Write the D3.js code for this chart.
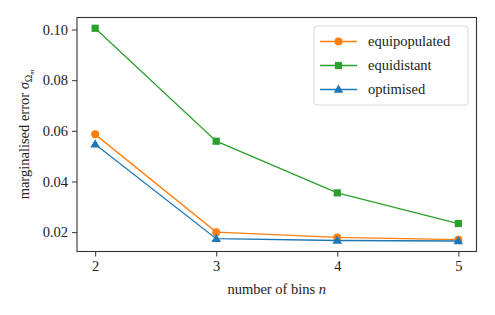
<!DOCTYPE html>
<html><head><meta charset="utf-8">
<script src="https://cdn.jsdelivr.net/npm/d3@7"></script>
<style>
body{margin:0;background:#fff;}
svg text, svg tspan{font-family:"Liberation Serif", "Tinos", "Times New Roman", serif !important;}
</style>
</head>
<body><svg id="c" width="495" height="315"></svg>
<script>
const bins = [2, 3, 4, 5];
const equipopulated = [0.0586, 0.0200, 0.0179, 0.0170];
const equidistant = [0.1005, 0.0559, 0.0355, 0.0234];
const optimised = [0.0547, 0.0174, 0.0167, 0.0165];
const yTicks = [0.02, 0.04, 0.06, 0.08, 0.10];
const xTicks = [2, 3, 4, 5];
const seriesNames = ["equipopulated", "equidistant", "optimised"];
const seriesColors = ["#ff7f0e", "#2ca02c", "#1f77b4"];
const seriesMarkers = ["circle", "square", "triangle"];
const seriesValues = [equipopulated, equidistant, optimised];

const FONT = '"Liberation Serif"';
const svg = d3.select("#c").style("font-family", FONT);
const L = 77, R = 476.5, T = 17.5, B = 251.5;
const x = d3.scaleLinear().domain([1.85, 5.15]).range([L, R]);
const y = d3.scaleLinear().domain([0.01235, 0.10475]).range([B, T]);

const fs = 14.5;
function txt(sel) { return sel.attr("font-family", "Liberation Serif").style("font-family", FONT); }

const xa = svg.append("g").attr("transform", `translate(0,${B})`)
  .call(d3.axisBottom(x).tickValues(xTicks).tickFormat(d3.format("d")).tickSize(5).tickPadding(4));
const ya = svg.append("g").attr("transform", `translate(${L},0)`)
  .call(d3.axisLeft(y).tickValues(yTicks).tickFormat(d3.format(".2f")).tickSize(5).tickPadding(4));
[xa, ya].forEach(a => {
  a.attr("font-family", "Liberation Serif").attr("font-size", null);
  a.select(".domain").remove();
  a.selectAll("line").attr("stroke", "#333").attr("stroke-width", 1);
  txt(a.selectAll("text")).style("font-size", fs + "px").attr("fill", "#222");
});

const line = d3.line().x((d, i) => x(bins[i])).y(d => y(d));
function marker(g, type, cx, cy, color) {
  if (type === "circle") g.append("circle").attr("cx", cx).attr("cy", cy).attr("r", 4).attr("fill", color);
  else if (type === "square") g.append("rect").attr("x", cx - 3.6).attr("y", cy - 3.6).attr("width", 7.2).attr("height", 7.2).attr("fill", color);
  else g.append("path").attr("d", d3.symbol(d3.symbolTriangle, 40)()).attr("transform", `translate(${cx},${cy + 0.5})`).attr("fill", color);
}
seriesValues.forEach((vals, s) => {
  const g = svg.append("g");
  g.append("path").datum(vals).attr("d", line).attr("fill", "none")
    .attr("stroke", seriesColors[s]).attr("stroke-width", 1.3);
  vals.forEach((v, i) => marker(g, seriesMarkers[s], x(bins[i]), y(v), seriesColors[s]));
});

svg.append("rect").attr("x", L).attr("y", T).attr("width", R - L).attr("height", B - T)
  .attr("fill", "none").attr("stroke", "#333").attr("stroke-width", 1.1);

const lg = svg.append("g");
lg.append("rect").attr("x", 314).attr("y", 26).attr("width", 154).attr("height", 79).attr("rx", 3)
  .attr("fill", "#fff").attr("fill-opacity", 0.8).attr("stroke", "#d9d9d9").attr("stroke-width", 1);
seriesNames.forEach((n, s) => {
  const yy = 41.5 + s * 24;
  lg.append("line").attr("x1", 320).attr("x2", 357).attr("y1", yy).attr("y2", yy)
    .attr("stroke", seriesColors[s]).attr("stroke-width", 1.3);
  marker(lg, seriesMarkers[s], 338.5, yy, seriesColors[s]);
  txt(lg.append("text")).attr("x", 368).attr("y", yy + 4.8).style("font-size", fs + "px").attr("fill", "#222").text(n);
});

const xl = txt(svg.append("text")).attr("x", (L + R) / 2).attr("y", 294).attr("text-anchor", "middle")
  .style("font-size", fs + "px").attr("fill", "#222");
xl.append("tspan").text("number of bins ");
xl.append("tspan").attr("font-style", "italic").text("n");
const yl = txt(svg.append("text")).attr("transform", `translate(29,${(T + B) / 2}) rotate(-90)`)
  .attr("text-anchor", "middle").style("font-size", fs + "px").attr("fill", "#222");
yl.append("tspan").text("marginalised error ");
yl.append("tspan").attr("font-style", "italic").text("σ");
yl.append("tspan").style("font-size", "10px").attr("dy", 3).text("Ω");
yl.append("tspan").style("font-size", "7px").attr("dy", 2).attr("font-style", "italic").text("m");
</script></body></html>
